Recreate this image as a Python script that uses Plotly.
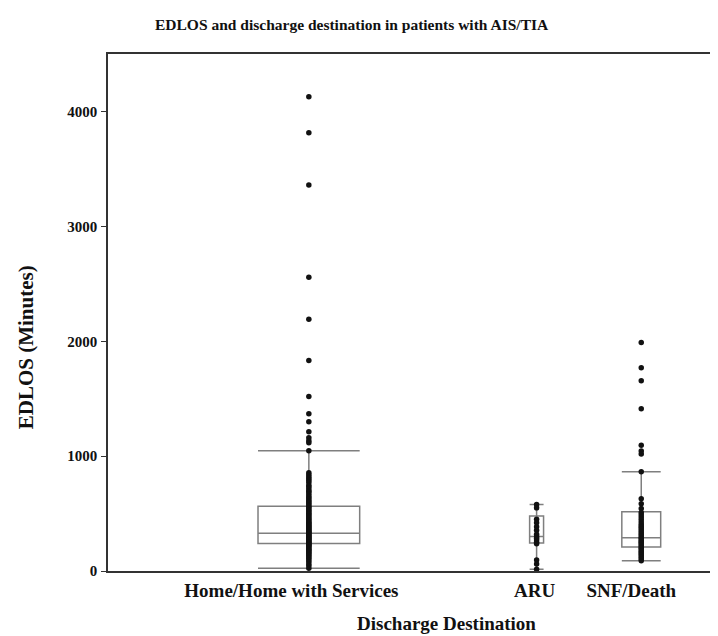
import plotly.graph_objects as go

# ---- data ----
categories = ["Home/Home with Services", "ARU", "SNF/Death"]

home_points = [4131, 3817, 3362, 2559, 2192, 1834, 1520, 1370, 1300, 1213, 1160, 1134, 1117, 1047,
               856, 838, 820, 805, 790, 772, 750, 735, 718, 700, 690, 672, 655, 640, 628, 612, 600,
               588, 575, 562, 550, 540, 528, 515, 503, 492, 480, 470, 458, 447, 436, 425, 415, 405,
               396, 388, 378, 370, 362, 352, 345, 338, 330, 322, 315, 308, 300, 292, 285, 277, 270,
               262, 255, 248, 240, 232, 225, 217, 208, 200, 190, 180, 170, 160, 150, 138, 125, 110,
               95, 80, 62, 45, 25]
aru_points = [580, 550, 450, 420, 385, 355, 320, 300, 285, 270, 250, 238, 95, 60, 15]
snf_points = [1990, 1771, 1658, 1414, 1095, 1045, 1020, 865, 630, 585, 545, 510, 490, 470, 450,
              430, 410, 395, 380, 365, 350, 335, 320, 305, 290, 280, 268, 255, 245, 235, 222, 210,
              198, 185, 172, 160, 148, 135, 120, 105, 90]

q1 = [240, 244, 210]
median = [328, 300, 290]
q3 = [565, 480, 515]
lowerfence = [25, 15, 90]
upperfence = [1047, 580, 865]

y_ticks = [0, 1000, 2000, 3000, 4000]

# ---- layout constants ----
box_pos = [201.5, 430, 535]
box_width = [102, 14, 39]
label_pos = [184, 428, 525]

FONT = "Liberation Serif"
BOX_COLOR = "#7f7f7f"

fig = go.Figure()
all_points = [home_points, aru_points, snf_points]
for i in range(3):
    fig.add_trace(go.Box(
        x=[box_pos[i]], q1=[q1[i]], median=[median[i]], q3=[q3[i]],
        lowerfence=[lowerfence[i]], upperfence=[upperfence[i]],
        width=box_width[i], whiskerwidth=1, boxpoints=False,
        fillcolor="rgba(0,0,0,0)", line=dict(color=BOX_COLOR, width=1.5),
        showlegend=False, hoverinfo="skip",
    ))
for i in range(3):
    pts = all_points[i]
    fig.add_trace(go.Scatter(
        x=[box_pos[i]] * len(pts), y=pts, mode="markers",
        marker=dict(color="#111111", size=5.5, line=dict(width=0)),
        showlegend=False, name=categories[i],
    ))

fig.update_layout(
    width=718, height=636,
    margin=dict(l=100, r=5, t=46, b=73),
    paper_bgcolor="white", plot_bgcolor="white",
    font=dict(family=FONT, size=15, color="#111111", weight="bold"),
    xaxis=dict(range=[0, 613], tickvals=label_pos, ticktext=categories,
               ticks="", showgrid=False, zeroline=False,
               showline=True, linecolor="#333333", linewidth=2, mirror=True,
               tickfont=dict(size=19), ticklabelstandoff=1),
    yaxis=dict(range=[0, 4503], tickvals=y_ticks, ticks="outside", ticklen=5,
               tickcolor="#333333", showgrid=False, zeroline=False,
               showline=True, linecolor="#333333", linewidth=1.5, mirror=True,
               tickfont=dict(size=15), ticklabelstandoff=1),
    annotations=[
        dict(text="EDLOS and discharge destination in patients with AIS/TIA",
             xref="paper", yref="paper", x=0.4, y=1 + 30 / 517, xanchor="center", yanchor="middle",
             showarrow=False, font=dict(size=15.5)),
        dict(text="Discharge Destination", xref="paper", yref="paper", x=(440 - 100) / 613,
             y=-(615 - 563) / 517, xanchor="center", yanchor="middle", showarrow=False,
             borderpad=0, font=dict(size=19)),
        dict(text="EDLOS (Minutes)", xref="paper", yref="paper", x=-0.134, y=0.433,
             xanchor="center", yanchor="middle", textangle=-90, showarrow=False,
             font=dict(size=21)),
    ],
)

fig.write_html("out.html")
